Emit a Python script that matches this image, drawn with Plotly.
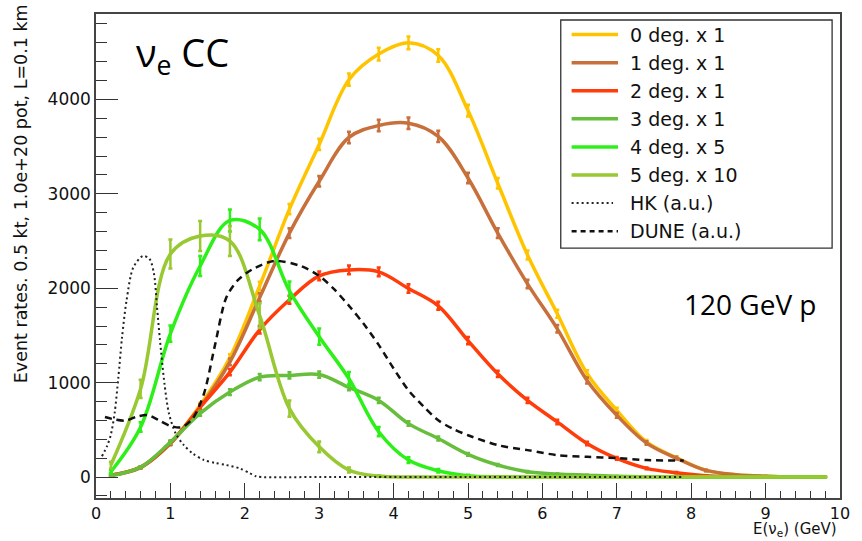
import math
import plotly.graph_objects as go

# ---------------- data ----------------
energy = [0.2, 0.6, 1.0, 1.4, 1.8, 2.2, 2.6, 3.0, 3.4, 3.8, 4.2, 4.6, 5.0,
          5.4, 5.8, 6.2, 6.6, 7.0, 7.4, 7.8, 8.2, 8.6, 9.0, 9.4, 9.8]

deg0 = [20, 105, 360, 760, 1266, 2025, 2838, 3523, 4209, 4480, 4600, 4465, 3882,
        3112, 2352, 1730, 1097, 707, 372, 205, 70, 25, 8, 0, 0]
deg1 = [20, 100, 355, 740, 1220, 1902, 2584, 3133, 3597, 3724, 3748, 3608, 3168,
        2584, 2046, 1570, 1023, 654, 360, 200, 70, 25, 8, 0, 0]
deg2 = [20, 105, 360, 740, 1111, 1560, 1878, 2131, 2194, 2173, 1997, 1814, 1445,
        1094, 812, 584, 355, 197, 92, 46, 15, 5, 0, 0, 0]
deg3 = [15, 105, 370, 675, 900, 1058, 1076, 1086, 949, 812, 566, 408, 240,
        127, 56, 32, 20, 8, 3, 0, 0, 0, 0, 0, 0]
deg4 = [56, 530, 1519, 2236, 2718, 2623, 1972, 1487, 1041, 480, 180, 67, 15,
        3, 0, 0, 0, 0, 0, 0, 0, 0, 0, 0, 0]
deg5 = [127, 935, 2362, 2553, 2500, 1709, 725, 320, 74, 10, 0, 0, 0,
        0, 0, 0, 0, 0, 0, 0, 0, 0, 0, 0, 0]

hk_e = [0.08, 0.15, 0.2, 0.25, 0.3, 0.35, 0.41, 0.5, 0.63, 0.72, 0.78, 0.82,
        0.86, 0.92, 0.98, 1.07, 1.18, 1.3, 1.45, 1.6, 1.75, 1.93, 2.07, 2.15,
        2.22, 3.0, 5.0, 7.9]
hk = [220, 330, 450, 675, 1050, 1480, 1867, 2218, 2342, 2310, 2150, 1800,
      1450, 990, 675, 464, 338, 250, 180, 150, 127, 92, 39, 8,
      0, 0, 0, 0]

dune_e = [0.12, 0.25, 0.4, 0.55, 0.7, 0.85, 1.0, 1.15, 1.3, 1.45, 1.6, 1.75,
          1.9, 2.1, 2.4, 2.75, 3.0, 3.2, 3.42, 3.6, 3.8, 4.0, 4.2, 4.4, 4.6,
          4.8, 5.0, 5.4, 5.8, 6.2, 6.6, 7.0, 7.4, 7.9]
dune = [636, 610, 598, 640, 655, 600, 541, 527, 620, 880, 1400, 1900,
        2080, 2200, 2290, 2236, 2131, 1990, 1796, 1620, 1400, 1150, 918, 750, 601,
        510, 443, 338, 285, 232, 214, 200, 180, 175]

labels = ["0 deg. x 1", "1 deg. x 1", "2 deg. x 1", "3 deg. x 1",
          "4 deg. x 5", "5 deg. x 10", "HK (a.u.)", "DUNE (a.u.)"]
scales = [1, 1, 1, 1, 5, 10]
colors = ["#FFC400", "#C8703C", "#FF3C0A", "#66BE3C", "#2CF018", "#98C832"]

x_ticks = [0, 1, 2, 3, 4, 5, 6, 7, 8, 9, 10]
y_ticks = [0, 1000, 2000, 3000, 4000]

# ---------------- geometry helpers (pixel -> paper) ----------------
W, H = 862, 541
ML, MR, MT, MB = 96, 12, 12, 43
PW, PH = W - ML - MR, H - MT - MB


def px(xp):
    return (xp - ML) / PW


def py(yp):
    return (H - MB - yp) / PH


fig = go.Figure()

series = [deg0, deg1, deg2, deg3, deg4, deg5]
for vals, sc, col, lab in zip(series, scales, colors, labels):
    errs = [math.sqrt(sc * v) for v in vals]
    fig.add_trace(go.Scatter(
        x=energy, y=vals, mode="lines", name=lab, showlegend=False,
        line=dict(color=col, width=3.5, shape="spline", smoothing=1.0),
        error_y=dict(type="data", array=errs, visible=True, color=col,
                     thickness=2.5, width=2),
    ))

fig.add_trace(go.Scatter(
    x=hk_e, y=hk, mode="lines", name=labels[6], showlegend=False,
    line=dict(color="#222222", width=2, dash="2px,3px", shape="spline", smoothing=0.8),
))
fig.add_trace(go.Scatter(
    x=dune_e, y=dune, mode="lines", name=labels[7], showlegend=False,
    line=dict(color="#111111", width=2.5, dash="7px,5px", shape="spline", smoothing=0.8),
))

axis_font = dict(family="DejaVu Sans", size=17, color="#111111")

fig.update_xaxes(
    range=[0, 10], tickvals=x_ticks, ticks="inside", ticklen=15, tickwidth=1.3,
    tickcolor="#333333", showline=True, linecolor="#444444", linewidth=1.5,
    mirror=True, showgrid=False, zeroline=False,
    tickfont=dict(family="DejaVu Sans", size=16, color="#111111"),
    ticklabelstandoff=0,
    minor=dict(dtick=0.2, ticks="inside", ticklen=7.5, tickwidth=1.3,
               tickcolor="#333333", showgrid=False),
)
fig.update_yaxes(
    range=[-222, 4905], tickvals=y_ticks, ticks="inside", ticklen=22, tickwidth=1.3,
    tickcolor="#333333", showline=True, linecolor="#444444", linewidth=1.5,
    mirror=True, showgrid=False, zeroline=False, tickfont=axis_font,
    minor=dict(dtick=200, tick0=0, ticks="inside", ticklen=11, tickwidth=1.3,
               tickcolor="#333333", showgrid=False),
)

annotations = [
    dict(text="Event rates. 0.5 kt, 1.0e+20 pot, L=0.1 km", textangle=-90,
         x=px(20), y=py(193), xanchor="center", yanchor="middle",
         font=dict(family="DejaVu Sans", size=17.5, color="#111111")),
    dict(text="E(ν<sub>e</sub>) (GeV)", x=px(849), y=py(541),
         xanchor="right", yanchor="bottom",
         font=dict(family="DejaVu Sans", size=15, color="#111111")),
    dict(text="ν<sub>e</sub> CC", x=px(135), y=py(53), xanchor="left",
         yanchor="middle", font=dict(family="Open Sans", size=38, color="#000000")),
    dict(text="120 GeV p", x=px(690), y=py(303), xanchor="left",
         yanchor="middle", font=dict(family="Open Sans", size=28, color="#000000")),
]

shapes = [dict(type="rect", xref="paper", yref="paper", x0=px(567), x1=px(842),
               y0=py(247), y1=py(18), line=dict(color="#333333", width=1.3),
               fillcolor="white", layer="above")]

legend_colors = colors + ["#222222", "#111111"]
legend_dash = ["solid"] * 6 + ["2px,3px", "5px,4px"]
legend_widths = [3.5] * 6 + [2, 2.5]
for i, lab in enumerate(labels):
    yy = 32.7 + 28.2 * i
    x_end = 620 if i == 6 else 625
    shapes.append(dict(type="line", xref="paper", yref="paper",
                       x0=px(578), x1=px(x_end), y0=py(yy), y1=py(yy),
                       line=dict(color=legend_colors[i], width=legend_widths[i],
                                 dash=legend_dash[i]), layer="above"))
    annotations.append(dict(text=lab, x=px(635), y=py(yy), xanchor="left",
                            yanchor="middle",
                            font=dict(family="DejaVu Sans", size=19, color="#111111")))

for a in annotations:
    a.setdefault("xref", "paper")
    a.setdefault("yref", "paper")
    a.setdefault("showarrow", False)

fig.update_layout(
    width=W, height=H,
    margin=dict(l=ML, r=MR, t=MT, b=MB),
    paper_bgcolor="white", plot_bgcolor="white",
    showlegend=False,
    annotations=annotations, shapes=shapes,
)

fig.write_html("out.html")
